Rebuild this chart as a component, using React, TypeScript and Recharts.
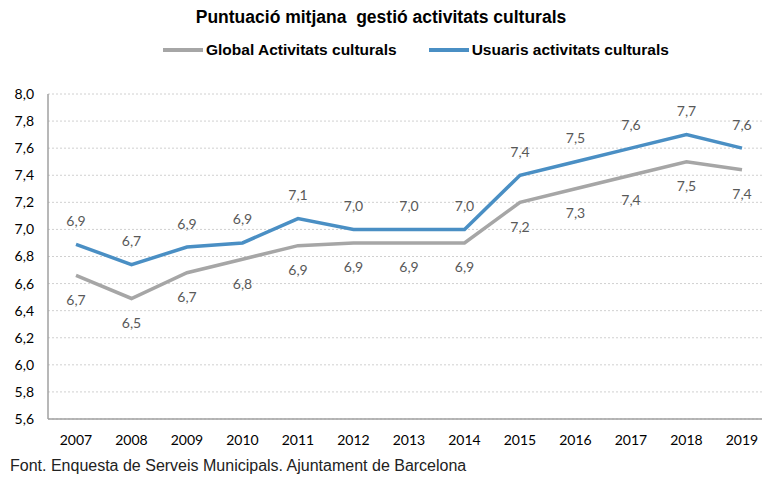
import React from 'react'
import { LineChart, Line, XAxis, YAxis, CartesianGrid } from 'recharts'

const years = ['2007', '2008', '2009', '2010', '2011', '2012', '2013', '2014', '2015', '2016', '2017', '2018', '2019']
const globalScores = [6.66, 6.49, 6.68, 6.78, 6.88, 6.9, 6.9, 6.9, 7.2, 7.3, 7.4, 7.5, 7.44]
const userScores = [6.89, 6.74, 6.87, 6.9, 7.08, 7.0, 7.0, 7.0, 7.4, 7.5, 7.6, 7.7, 7.6]
const yTicks = [5.6, 5.8, 6.0, 6.2, 6.4, 6.6, 6.8, 7.0, 7.2, 7.4, 7.6, 7.8, 8.0]

const GRAY = '#A6A6A6'
const BLUE = '#4A8FC4'
const LABEL_FONT = 'Lato, "Open Sans", sans-serif'
const TEXT_FONT = '"Liberation Sans", Arial, sans-serif'

const data = years.map((year, i) => ({ year, global: globalScores[i], users: userScores[i] }))

const fmt = (v: number) => v.toFixed(1).replace('.', ',')

const makeLabel = (dy: number) => (props: any) => {
  const { x, y, value } = props
  return (
    <text x={x} y={y + dy} textAnchor="middle" dominantBaseline="central" fontSize={14} fill="#595959" fontFamily={LABEL_FONT}>
      {fmt(value)}
    </text>
  )
}

const series = [
  { key: 'global', name: 'Global Activitats culturals', color: GRAY, dy: 24 },
  { key: 'users', name: 'Usuaris activitats culturals', color: BLUE, dy: -24 },
]

export default function App() {
  return (
    <div style={{ position: 'fixed', left: 0, top: 0, width: 762, height: 481, overflow: 'hidden', background: '#fff' }}>
      <div style={{ position: 'absolute', top: 7, left: 0, width: 762, textAlign: 'center', fontFamily: TEXT_FONT, fontWeight: 'bold', fontSize: 17.5, whiteSpace: 'pre' }}>
        Puntuació mitjana  gestió activitats culturals
      </div>
      <div style={{ position: 'absolute', top: 41, left: 163, display: 'flex', alignItems: 'center', fontFamily: TEXT_FONT, fontWeight: 'bold', fontSize: 15.5 }}>
        {series.map((s, i) => (
          <div key={s.key} style={{ display: 'flex', alignItems: 'center', marginRight: i === 0 ? 32 : 0 }}>
            <span style={{ display: 'inline-block', width: 40, height: 4, background: s.color, marginRight: 3 }} />
            <span>{s.name}</span>
          </div>
        ))}
      </div>
      <div style={{ position: 'absolute', top: 457, left: 10, fontFamily: TEXT_FONT, fontSize: 16, color: '#222' }}>
        Font. Enquesta de Serveis Municipals. Ajuntament de Barcelona
      </div>
      <div style={{ position: 'absolute', left: 0, top: 0 }}>
        <LineChart width={780} height={481} data={data} margin={{ top: 94, right: 10, bottom: 32, left: 0 }}>
          <CartesianGrid vertical={false} stroke="#D0D0D0" strokeDasharray="2 2" />
          <XAxis
            dataKey="year"
            padding={{ left: 28, right: 28 }}
            axisLine={{ stroke: '#A0A0A0', strokeWidth: 1.5 }}
            tickLine={false}
            tickSize={0}
            tickMargin={16}
            height={30}
            tick={{ fontSize: 14, fill: '#000', fontFamily: LABEL_FONT }}
            interval={0}
          />
          <YAxis
            domain={[5.6, 8.0]}
            ticks={yTicks}
            width={48}
            axisLine={{ stroke: '#A0A0A0', strokeWidth: 1.5 }}
            tickLine={false}
            tickSize={0}
            tickMargin={14}
            tickFormatter={fmt}
            tick={{ fontSize: 14, fill: '#000', fontFamily: LABEL_FONT }}
          />
          {series.map((s) => (
            <Line
              key={s.key}
              dataKey={s.key}
              name={s.name}
              stroke={s.color}
              strokeWidth={3.5}
              dot={false}
              isAnimationActive={false}
              label={makeLabel(s.dy)}
            />
          ))}
        </LineChart>
      </div>
    </div>
  )
}
